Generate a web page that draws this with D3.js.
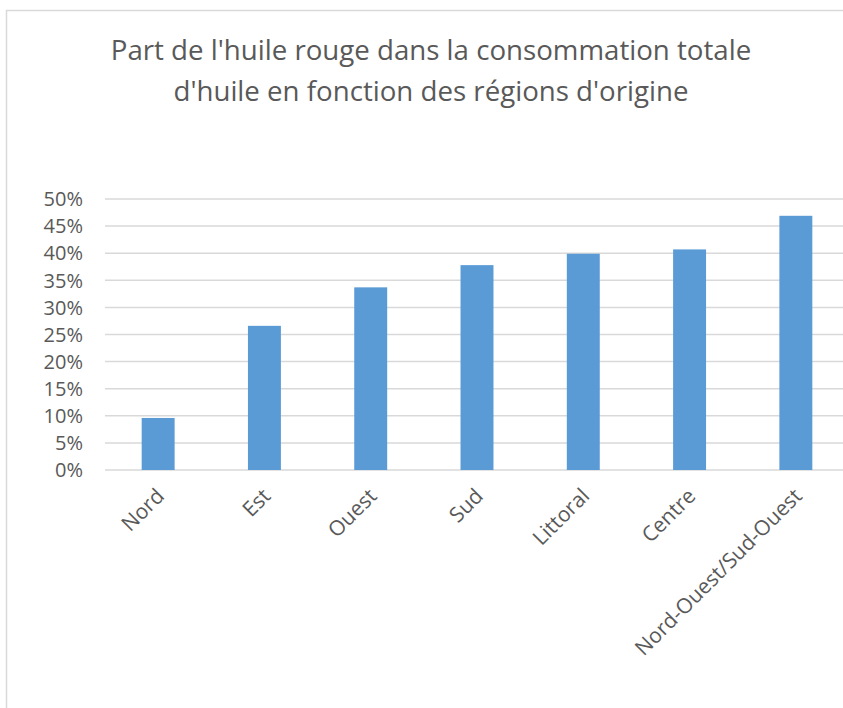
<!DOCTYPE html>
<html lang="fr">
    <head>
        <meta charset="utf-8">
        <title>Part de l'huile rouge</title>
        <script src="https://cdn.jsdelivr.net/npm/d3@7"></script>
        <style>
            body { margin: 0; background: #fff; }
            svg { display: block; font-family: "Open Sans", "Noto Sans", sans-serif; }
            .grid line { stroke: #d9d9d9; stroke-width: 1.5; }
            .bar { fill: #5b9bd5; }
            .lbl { fill: #595959; font-size: 20px; }
            .cat { font-size: 21px; }
        </style>
    </head>
    <body>
        <div id="chart"></div>
        <script>
            // data
            var regions = ["Nord", "Est", "Ouest", "Sud", "Littoral", "Centre", "Nord-Ouest/Sud-Ouest"];
            var shares = [0.096, 0.266, 0.337, 0.378, 0.399, 0.407, 0.469];
            var yTicks = [0, 0.05, 0.10, 0.15, 0.20, 0.25, 0.30, 0.35, 0.40, 0.45, 0.50];
            var titleLines = ["Part de l'huile rouge dans la consommation totale",
                              "d'huile en fonction des régions d'origine"];

            var W = 843, H = 708;
            var plot = {left: 105, right: 849, top: 199, bottom: 470};

            var svg = d3.select("#chart").append("svg")
                        .attr("width", W)
                        .attr("height", H);

            // chart area frame (runs off the right and bottom edge)
            svg.append("rect")
               .attr("x", 6.5).attr("y", 10.5)
               .attr("width", W + 20).attr("height", H + 20)
               .attr("fill", "#fff")
               .attr("stroke", "#d9d9d9")
               .attr("stroke-width", 1.5);

            var x = d3.scaleBand()
                      .domain(regions)
                      .range([plot.left, plot.right])
                      .paddingInner(0.69)
                      .paddingOuter(0.345);

            var y = d3.scaleLinear()
                      .domain([0, 0.5])
                      .range([plot.bottom, plot.top]);

            // title, sized so the first line spans like the original
            var title = svg.append("text")
                           .attr("text-anchor", "middle")
                           .attr("fill", "#595959");
            title.selectAll("tspan")
                 .data(titleLines)
                 .enter().append("tspan")
                 .attr("x", 431)
                 .attr("y", function(d, i) { return 60 + i * 41; })
                 .text(function(d) { return d; });
            title.style("font-size", "26px");
            var firstLen = title.select("tspan").node().getComputedTextLength();
            title.style("font-size", (26 * 641 / firstLen) + "px");

            // gridlines
            svg.append("g")
               .attr("class", "grid")
               .selectAll("line")
               .data(yTicks)
               .enter().append("line")
               .attr("x1", plot.left)
               .attr("x2", plot.right)
               .attr("y1", function(d) { return y(d); })
               .attr("y2", function(d) { return y(d); });

            // y axis labels
            var fmt = d3.format(".0%");
            svg.append("g")
               .selectAll("text")
               .data(yTicks)
               .enter().append("text")
               .attr("class", "lbl")
               .attr("x", 83)
               .attr("y", function(d) { return y(d); })
               .attr("dy", "0.36em")
               .attr("text-anchor", "end")
               .text(function(d) { return fmt(d); });

            // bars
            svg.selectAll(".bar")
               .data(regions)
               .enter().append("rect")
               .attr("class", "bar")
               .attr("x", function(d) { return x(d); })
               .attr("width", x.bandwidth())
               .attr("y", function(d, i) { return y(shares[i]); })
               .attr("height", function(d, i) { return plot.bottom - y(shares[i]); });

            // category labels, rotated
            svg.append("g")
               .selectAll("text")
               .data(regions)
               .enter().append("text")
               .attr("class", "lbl cat")
               .attr("text-anchor", "end")
               .attr("dy", "0.36em")
               .attr("transform", function(d) {
                   var cx = x(d) + x.bandwidth() / 2;
                   return "translate(" + (cx + 2) + "," + (plot.bottom + 22) + ") rotate(-45)";
               })
               .text(function(d) { return d; });
        </script>
    </body>
</html>
